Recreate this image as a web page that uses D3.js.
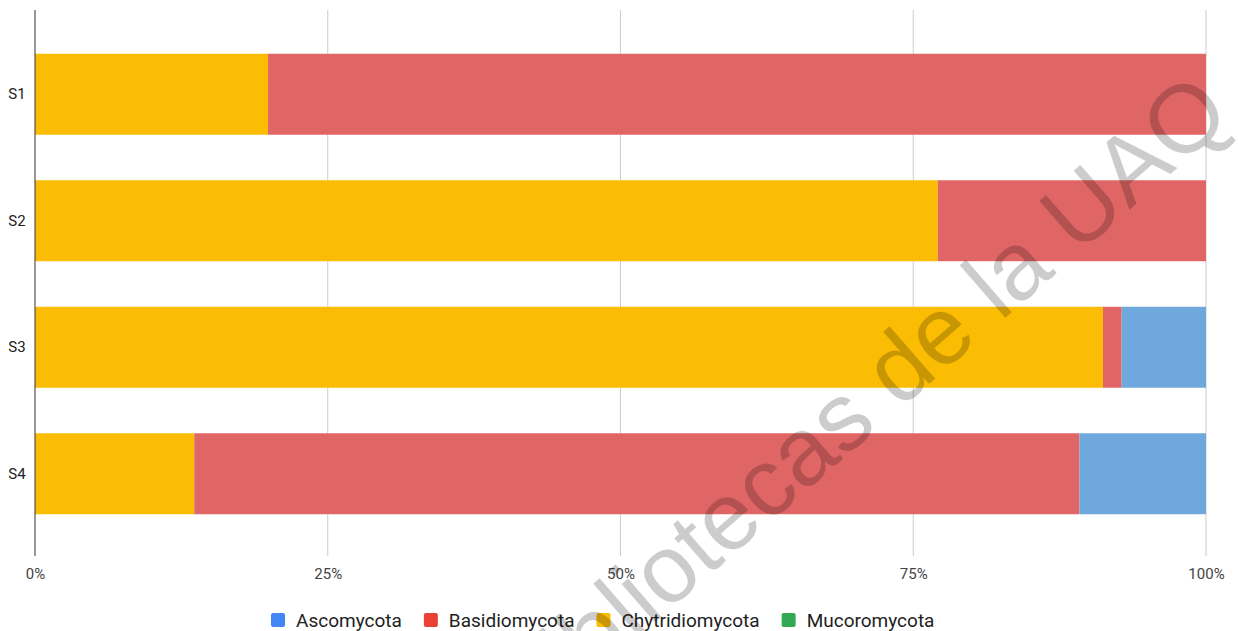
<!DOCTYPE html>
<html>
<head>
<meta charset="utf-8">
<script src="https://cdn.jsdelivr.net/npm/d3@7"></script>
<style>
  html, body { margin: 0; padding: 0; background: #fff; }
  svg { display: block; }
</style>
</head>
<body>
<svg id="chart" width="1238" height="631"></svg>
<script>
// Samples and phylum shares (percent of reads per sample)
const samples = ["S1", "S2", "S3", "S4"];
const phyla = ["Ascomycota", "Basidiomycota", "Chytridiomycota", "Mucoromycota"];
const ascomycota      = [0, 0, 7.2, 10.8];
const basidiomycota   = [80.1, 22.9, 1.6, 75.6];
const chytridiomycota = [19.9, 77.1, 91.2, 13.6];
const mucoromycota    = [0, 0, 0, 0];
const tickValues = [0, 0.25, 0.5, 0.75, 1];
const tickLabels = ["0%", "25%", "50%", "75%", "100%"];

// Bar fills and legend swatch fills
const barColors = {
  Ascomycota: "#6fa8dc",
  Basidiomycota: "#e06666",
  Chytridiomycota: "#fbbc04",
  Mucoromycota: "#93c47d"
};
const legendColors = {
  Ascomycota: "#4285f4",
  Basidiomycota: "#ea4335",
  Chytridiomycota: "#fbbc04",
  Mucoromycota: "#34a853"
};

const rows = samples.map((s, i) => ({
  sample: s,
  Ascomycota: ascomycota[i],
  Basidiomycota: basidiomycota[i],
  Chytridiomycota: chytridiomycota[i],
  Mucoromycota: mucoromycota[i]
}));

// Stacking order from the axis outward
const stackOrder = ["Chytridiomycota", "Basidiomycota", "Ascomycota", "Mucoromycota"];
const stacked = d3.stack()
  .keys(stackOrder)
  .offset(d3.stackOffsetExpand)(rows);

const svg = d3.select("#chart");
const font = "Roboto, 'Liberation Sans', Arial, sans-serif";

const x = d3.scaleLinear().domain([0, 1]).range([35, 1206]);
const y = d3.scaleBand().domain(samples).range([31, 537])
  .paddingInner(0.36).paddingOuter(0.18);

const plotTop = 10, plotBottom = 556;

// Vertical gridlines
svg.append("g")
  .selectAll("line")
  .data(tickValues.slice(1))
  .join("line")
  .attr("x1", d => x(d)).attr("x2", d => x(d))
  .attr("y1", plotTop).attr("y2", plotBottom)
  .attr("stroke", "#cccccc").attr("stroke-width", 1);

// Stacked bars
svg.append("g")
  .selectAll("g")
  .data(stacked)
  .join("g")
  .attr("fill", d => barColors[d.key])
  .selectAll("rect")
  .data(d => d)
  .join("rect")
  .attr("x", d => x(d[0]))
  .attr("width", d => Math.max(0, x(d[1]) - x(d[0])))
  .attr("y", d => y(d.data.sample))
  .attr("height", y.bandwidth());

// Baseline at 0%
svg.append("line")
  .attr("x1", x(0)).attr("x2", x(0))
  .attr("y1", plotTop).attr("y2", plotBottom)
  .attr("stroke", "#333333").attr("stroke-width", 1);

// X axis labels
const xAxis = d3.axisBottom(x)
  .tickValues(tickValues)
  .tickFormat((d, i) => tickLabels[i])
  .tickSize(0).tickPadding(0);
const gx = svg.append("g").attr("transform", "translate(0,568)").call(xAxis);
gx.select(".domain").remove();
gx.selectAll("text")
  .attr("font-family", font).attr("font-size", 15).attr("fill", "#444444")
  .attr("dy", "0.71em");

// Y axis labels
const yAxis = d3.axisLeft(y).tickSize(0).tickPadding(0);
const gy = svg.append("g").attr("transform", "translate(17,0)").call(yAxis);
gy.select(".domain").remove();
gy.selectAll("text")
  .attr("font-family", font).attr("font-size", 15).attr("fill", "#222222")
  .attr("text-anchor", "middle");

// Legend
const legend = svg.append("g").attr("transform", "translate(271,620)");
let lx = 0;
phyla.forEach(p => {
  const item = legend.append("g").attr("transform", `translate(${lx},0)`);
  item.append("rect")
    .attr("x", 0).attr("y", -7).attr("width", 14).attr("height", 14)
    .attr("rx", 2)
    .attr("fill", legendColors[p]);
  const t = item.append("text")
    .attr("x", 25).attr("y", 0).attr("dy", "0.35em")
    .attr("font-family", font).attr("font-size", 19).attr("fill", "#222222")
    .text(p);
  lx += 25 + t.node().getComputedTextLength() + 22;
});

// Library watermark
svg.append("text")
  .attr("transform", "translate(1234,119) rotate(-41)")
  .attr("text-anchor", "end")
  .attr("font-family", "'Liberation Sans', Arial, sans-serif")
  .attr("font-size", 96)
  .attr("fill", "#000000")
  .attr("fill-opacity", 0.2)
  .text("Bibliotecas de la UAQ");
</script>
</body>
</html>
